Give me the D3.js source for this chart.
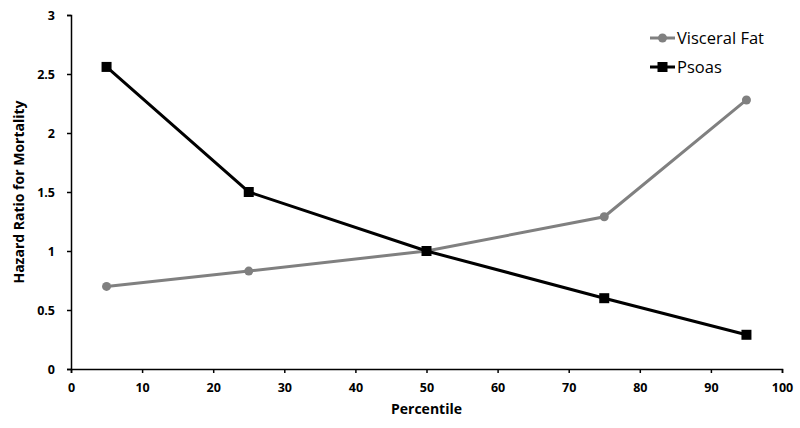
<!DOCTYPE html>
<html>
<head>
<meta charset="utf-8">
<script src="https://cdn.jsdelivr.net/npm/d3@7"></script>
<style>
  body { margin: 0; background: #fff; }
  svg { display: block; }
  .axis text { font-family: "Open Sans", sans-serif; font-weight: bold; font-size: 12.5px; fill: #000; }
  .axis path, .axis line { stroke: #000; stroke-width: 1.5px; }
</style>
</head>
<body>
<svg width="800" height="428"></svg>
<script>
// percentile points and hazard ratios
const percentiles = [5, 25, 50, 75, 95];
const visceralFat = [0.70, 0.83, 1.0, 1.29, 2.28];
const psoas = [2.56, 1.50, 1.0, 0.60, 0.29];
const xTicks = [0, 10, 20, 30, 40, 50, 60, 70, 80, 90, 100];
const yTicks = [0, 0.5, 1, 1.5, 2, 2.5, 3];

const svg = d3.select('svg');
const margin = { left: 71, right: 18, top: 15, bottom: 59 };
const width = 800, height = 428;

const x = d3.scaleLinear().domain([0, 100]).range([margin.left, width - margin.right]);
const y = d3.scaleLinear().domain([0, 3]).range([height - margin.bottom, margin.top]);

// axes
svg.append('g')
  .attr('class', 'axis')
  .attr('transform', `translate(0,${y(0)})`)
  .call(d3.axisBottom(x).tickValues(xTicks).tickSize(4).tickSizeOuter(4).tickPadding(8))
  .call(g => g.selectAll('text').attr('dy', '0.85em'));

svg.append('g')
  .attr('class', 'axis')
  .attr('transform', `translate(${x(0)},0)`)
  .call(d3.axisLeft(y).tickValues(yTicks).tickSize(4).tickSizeOuter(4).tickPadding(12).tickFormat(d3.format('')));

// axis titles
svg.append('text')
  .attr('x', (x(0) + x(100)) / 2)
  .attr('y', 414)
  .attr('text-anchor', 'middle')
  .style('font-family', '"Open Sans", sans-serif')
  .style('font-weight', 'bold')
  .style('font-size', '14px')
  .text('Percentile');

svg.append('text')
  .attr('transform', `translate(24,${(y(0) + y(3)) / 2}) rotate(-90)`)
  .attr('text-anchor', 'middle')
  .style('font-family', '"Open Sans", sans-serif')
  .style('font-weight', 'bold')
  .style('font-size', '14px')
  .text('Hazard Ratio for Mortality');

const series = [
  { name: 'Visceral Fat', values: visceralFat, color: '#808080', marker: 'circle' },
  { name: 'Psoas', values: psoas, color: '#000000', marker: 'square' }
];

const line = d3.line()
  .x((d, i) => x(percentiles[i]))
  .y(d => y(d));

function drawMarker(g, type, color, cx, cy) {
  if (type === 'circle') {
    g.append('circle').attr('cx', cx).attr('cy', cy).attr('r', 4.5).attr('fill', color);
  } else {
    g.append('rect').attr('x', cx - 5).attr('y', cy - 5).attr('width', 10).attr('height', 10).attr('fill', color);
  }
}

series.forEach(s => {
  const g = svg.append('g');
  g.append('path')
    .datum(s.values)
    .attr('d', line)
    .attr('fill', 'none')
    .attr('stroke', s.color)
    .attr('stroke-width', 3);
  s.values.forEach((v, i) => drawMarker(g, s.marker, s.color, x(percentiles[i]), y(v)));
});

// legend
const legend = svg.append('g').attr('transform', 'translate(650,38)');
series.forEach((s, i) => {
  const row = legend.append('g').attr('transform', `translate(0,${i * 29})`);
  row.append('line').attr('x1', 0).attr('x2', 25).attr('y1', 0).attr('y2', 0)
    .attr('stroke', s.color).attr('stroke-width', 3);
  drawMarker(row, s.marker, s.color, 12.5, 0);
  row.append('text')
    .attr('x', 27)
    .attr('y', 0)
    .attr('dy', '0.35em')
    .style('font-family', '"Open Sans", sans-serif')
    .style('font-size', '16.5px')
    .text(s.name);
});
</script>
</body>
</html>
